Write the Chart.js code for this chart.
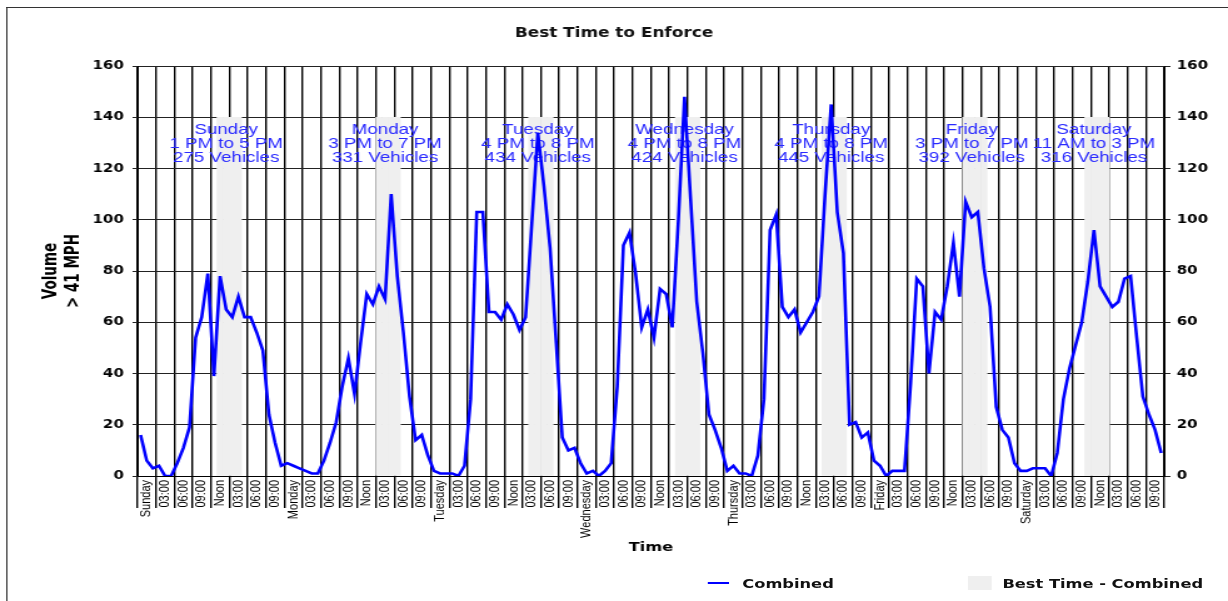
<!DOCTYPE html>
<html>
<head>
<meta charset="utf-8">
<script src="https://cdn.jsdelivr.net/npm/chart.js@4.4.1/dist/chart.umd.min.js"></script>
<style>
html,body{margin:0;padding:0;background:#fff;overflow:hidden;width:1228px;height:601px;}
#stage{position:absolute;left:0;top:0;width:982px;height:601px;transform:scaleX(1.25051);transform-origin:0 0;}
#frame{position:absolute;left:4.8px;top:6.5px;width:1000px;height:620px;border-top:1px solid #333;border-left:1px solid #333;}
#chartBox{position:absolute;left:0;top:0;width:982px;height:601px;}
#legend{position:absolute;top:575.5px;left:0;width:982px;height:16px;font:bold 13px "DejaVu Sans",sans-serif;color:#111;}
#legend .lg-line{position:absolute;left:566px;top:6.2px;width:17px;height:2.4px;background:#0000ff;}
#legend .lg-t1{position:absolute;left:593.6px;top:0;line-height:16px;white-space:nowrap;}
#legend .lg-box{position:absolute;left:774px;top:0.5px;width:19.2px;height:14px;background:#efefef;}
#legend .lg-t2{position:absolute;left:801.6px;top:0;line-height:16px;white-space:nowrap;}
</style>
</head>
<body>
<div id="stage">
  <div id="frame"></div>
  <div id="chartBox"><canvas id="c"></canvas></div>
  <div id="legend">
    <div class="lg-line"></div><div class="lg-t1">Combined</div>
    <div class="lg-box"></div><div class="lg-t2">Best Time - Combined</div>
  </div>
</div>
<script>
// ---- data (hourly volume > 41 MPH, Sunday 00:00 .. Saturday 23:00) ----
const sunday    = [16, 6, 3, 4, 0, 0, 5, 11, 19, 54, 62, 79, 39, 78, 65, 62, 70, 62, 62, 56, 49, 24, 13, 4];
const monday    = [5, 4, 3, 2, 1, 1, 6, 13, 21, 35, 46, 32, 52, 71, 67, 74, 69, 110, 78, 56, 31, 14, 16, 8];
const tuesday   = [2, 1, 1, 1, 0, 4, 30, 103, 103, 64, 64, 61, 67, 63, 57, 62, 98, 134, 113, 89, 52, 15, 10, 11];
const wednesday = [5, 1, 2, 0, 2, 5, 35, 90, 95, 79, 58, 65, 54, 73, 71, 58, 100, 148, 108, 68, 48, 24, 18, 11];
const thursday  = [2, 4, 1, 1, 0, 8, 30, 96, 102, 66, 62, 65, 56, 60, 64, 70, 110, 145, 103, 87, 20, 21, 15, 17];
const friday    = [6, 4, 0, 2, 2, 2, 36, 77, 74, 40, 64, 61, 74, 91, 70, 107, 101, 103, 81, 66, 27, 18, 15, 5];
const saturday  = [2, 2, 3, 3, 3, 0, 9, 30, 42, 51, 60, 76, 96, 74, 70, 66, 68, 77, 78, 54, 31, 24, 18, 9];

const dayNames = ['Sunday', 'Monday', 'Tuesday', 'Wednesday', 'Thursday', 'Friday', 'Saturday'];
const hourTickLabels = ['03:00', '06:00', '09:00', 'Noon', '03:00', '06:00', '09:00'];

// best time windows
const bestStartHour = [13, 15, 16, 16, 16, 15, 11];
const bestRange = ['1 PM to 5 PM', '3 PM to 7 PM', '4 PM to 8 PM', '4 PM to 8 PM', '4 PM to 8 PM', '3 PM to 7 PM', '11 AM to 3 PM'];
const bestVehicles = [275, 331, 434, 424, 445, 392, 316];
const bestWindowHours = 4;
const bandLevel = 140;

// ---- derived structures ----
const combined = [].concat(sunday, monday, tuesday, wednesday, thursday, friday, saturday);
const hourLabels = combined.map((_, i) => String(i));
const tickLabels = [];
dayNames.forEach(d => { tickLabels.push(d); hourTickLabels.forEach(h => tickLabels.push(h)); });
const bestBand = combined.map((_, i) => {
  const day = Math.floor(i / 24), h = i % 24;
  return (h >= bestStartHour[day] && h < bestStartHour[day] + bestWindowHours) ? bandLevel : null;
});

const bestTextPlugin = {
  id: 'bestTimeText',
  beforeDatasetDraw(chart, args) {
    if (args.index !== 0) return;
    const {ctx} = chart;
    const x = chart.scales.x, y = chart.scales.y;
    const top = y.getPixelForValue(bandLevel);
    ctx.save();
    ctx.font = '15px "Liberation Sans", Arial, sans-serif';
    ctx.fillStyle = '#2a2aff';
    ctx.textAlign = 'center';
    ctx.textBaseline = 'middle';
    dayNames.forEach((d, i) => {
      const cx = x.getPixelForValue(i * 24 + bestStartHour[i] + 1);
      [d, bestRange[i], bestVehicles[i] + ' Vehicles'].forEach((t, j) => {
        ctx.fillText(t, cx, top + 12.5 + 14 * j);
      });
    });
    ctx.restore();
  }
};

const gridBlack = '#000';
new Chart(document.getElementById('c'), {
  type: 'line',
  data: {
    labels: hourLabels,
    datasets: [
      {
        label: 'Combined',
        data: combined,
        borderColor: '#0000ff',
        backgroundColor: '#0000ff',
        borderWidth: 2.6,
        pointRadius: 0,
        tension: 0,
        fill: false,
        order: 0,
        yAxisID: 'y'
      },
      {
        type: 'bar',
        label: 'Best Time - Combined',
        data: bestBand,
        backgroundColor: '#efefef',
        borderWidth: 0,
        barPercentage: 1,
        categoryPercentage: 1,
        order: 1,
        yAxisID: 'y'
      }
    ]
  },
  options: {
    responsive: true,
    maintainAspectRatio: false,
    animation: false,
    devicePixelRatio: 1,
    layout: { padding: 0 },
    plugins: {
      legend: { display: false },
      tooltip: { enabled: false },
      title: {
        display: true,
        text: 'Best Time to Enforce',
        color: '#111',
        font: { family: '"DejaVu Sans", sans-serif', size: 13.5, weight: 'bold', lineHeight: 1.2 },
        padding: { top: 25, bottom: 24.8 }
      }
    },
    scales: {
      x: {
        type: 'category',
        offset: true,
        grid: {
          offset: true,
          color: ctx => (ctx.index === undefined || ctx.index % 3 === 0) ? gridBlack : 'rgba(0,0,0,0)',
          lineWidth: 1.4,
          tickLength: 32,
          drawOnChartArea: true
        },
        border: { display: true, color: gridBlack },
        ticks: {
          autoSkip: false,
          minRotation: 90,
          maxRotation: 90,
          padding: -28,
          color: '#000',
          font: { family: '"Liberation Sans Narrow", "Liberation Sans", Arial, sans-serif', size: 11 },
          callback: (v, i) => (i % 3 === 1) ? tickLabels[(i - 1) / 3] : ''
        },
        title: {
          display: true,
          text: 'Time',
          color: '#000',
          font: { family: '"DejaVu Sans", sans-serif', size: 13, weight: 'bold', lineHeight: 1.2 },
          padding: { top: 0, bottom: 46 }
        },
        afterFit: s => { s.height = 125; }
      },
      y: {
        position: 'left',
        min: 0, max: 160,
        ticks: {
          stepSize: 20,
          padding: 7,
          color: '#000',
          font: { family: '"DejaVu Sans", sans-serif', size: 12, weight: 'bold' }
        },
        grid: { color: '#222', lineWidth: 1, tickLength: 4 },
        border: { display: true, color: gridBlack },
        title: {
          display: true,
          text: ['Volume', '> 41 MPH'],
          color: '#000',
          font: { family: '"Liberation Sans Narrow", "DejaVu Sans Condensed", sans-serif', size: 15, weight: 'bold', lineHeight: '18px' },
          padding: { top: 32, bottom: 0 }
        },
        afterFit: s => { s.width = 110; }
      },
      y2: {
        position: 'right',
        min: 0, max: 160,
        ticks: {
          stepSize: 20,
          padding: 5,
          color: '#000',
          font: { family: '"DejaVu Sans", sans-serif', size: 12, weight: 'bold' }
        },
        grid: { drawOnChartArea: false, color: '#222', tickLength: 5 },
        border: { display: true, color: gridBlack },
        afterFit: s => { s.width = 51; }
      }
    }
  },
  plugins: [bestTextPlugin]
});
</script>
</body>
</html>
